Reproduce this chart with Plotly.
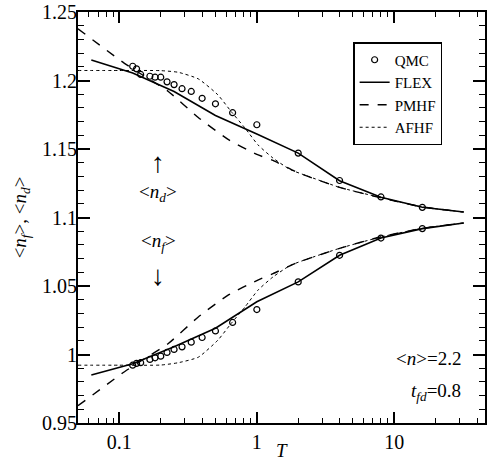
import plotly.graph_objects as go

# ---- data ----
qmc_T = [1/8, 1/7.5, 1/7, 1/6, 1/5.5, 1/5, 1/4.5, 1/4, 1/3.5, 1/3, 1/2.5, 1/2, 1/1.5, 1, 2, 4, 8, 16]
qmc_nd = [1.2104, 1.2085, 1.2044, 1.2031, 1.2024, 1.2024, 1.199, 1.197, 1.194, 1.192, 1.187, 1.183,
          1.1765, 1.1677, 1.147, 1.127, 1.115, 1.1074]
qmc_nf = [0.9922, 0.9935, 0.994, 0.9964, 0.9976, 0.9988, 1.0015, 1.0037, 1.0056, 1.009, 1.0124, 1.0172,
          1.0234, 1.0328, 1.053, 1.0724, 1.085, 1.0919]

flex_T = [0.0625, 0.125, 0.25, 0.5, 1, 2, 4, 8, 16, 32]
flex_nd = [1.215, 1.2055, 1.192, 1.1745, 1.161, 1.147, 1.1268, 1.1148, 1.1075, 1.104]
flex_nf = [0.985, 0.9932, 1.0056, 1.0192, 1.0385, 1.053, 1.0724, 1.085, 1.0919, 1.096]

pmhf_T = [0.05, 0.104, 0.137, 0.227, 0.375, 0.618, 1.0, 1.31, 1.95, 4.0, 7.9, 16, 32]
pmhf_nd = [1.2377, 1.214, 1.206, 1.192, 1.173, 1.157, 1.146, 1.1417, 1.1331, 1.122, 1.1145, 1.1077, 1.104]
pmhf_nf = [0.9626, 0.986, 0.994, 1.008, 1.0274, 1.0433, 1.054, 1.059, 1.0669, 1.0775, 1.0858, 1.0921, 1.096]

afhf_T = [0.05, 0.1, 0.2, 0.268, 0.375, 0.52, 0.65, 0.82, 1.02, 1.31, 1.75, 2.3, 4, 8, 16, 32]
afhf_nd = [1.2073, 1.2073, 1.2072, 1.206, 1.2012, 1.1896, 1.1774, 1.1653, 1.153, 1.1434, 1.135, 1.1305,
           1.122, 1.1145, 1.1077, 1.104]
afhf_nf = [0.9922, 0.9922, 0.9923, 0.994, 0.998, 1.0104, 1.0226, 1.0347, 1.047, 1.0566, 1.065, 1.0695,
           1.0775, 1.0858, 1.0921, 1.096]

x_tickvals = [0.1, 1, 10]
x_ticktext = ["0.1", "1", "10"]
x_minor = [0.06, 0.07, 0.08, 0.09, 0.2, 0.3, 0.4, 0.5, 0.6, 0.7, 0.8, 0.9,
           2, 3, 4, 5, 6, 7, 8, 9, 20, 30, 40]

FONT = "Liberation Serif"

fig = go.Figure()

for ys, show in ((qmc_nd, True), (qmc_nf, False)):
    fig.add_trace(go.Scatter(x=qmc_T, y=ys, mode="markers", name="QMC", legendgroup="qmc",
                             showlegend=show,
                             marker=dict(symbol="circle-open", size=6, color="black",
                                         line=dict(width=1.2, color="black"))))
for ys, show in ((flex_nd, True), (flex_nf, False)):
    fig.add_trace(go.Scatter(x=flex_T, y=ys, mode="lines", name="FLEX", legendgroup="flex",
                             showlegend=show, line=dict(color="black", width=1.6)))
for ys, show in ((pmhf_nd, True), (pmhf_nf, False)):
    fig.add_trace(go.Scatter(x=pmhf_T, y=ys, mode="lines", name="PMHF", legendgroup="pmhf",
                             showlegend=show,
                             line=dict(color="black", width=1.4, dash="dash", shape="spline",
                                       smoothing=0.5)))
for ys, show in ((afhf_nd, True), (afhf_nf, False)):
    fig.add_trace(go.Scatter(x=afhf_T, y=ys, mode="lines", name="AFHF", legendgroup="afhf",
                             showlegend=show,
                             line=dict(color="black", width=1, dash="dot", shape="spline",
                                       smoothing=0.5)))

ann_font = dict(family=FONT, size=19, color="black")
arrow_font = dict(family=FONT, size=28, color="black")
annotations = [
    dict(x=0.197, y=0.635, text="↑", font=arrow_font),
    dict(x=0.197, y=0.56, text="&lt;<i>n</i><sub><i>d</i></sub>&gt;", font=ann_font),
    dict(x=0.197, y=0.44, text="&lt;<i>n</i><sub><i>f</i></sub>&gt;", font=ann_font),
    dict(x=0.197, y=0.36, text="↓", font=arrow_font),
]
for a in annotations:
    a.update(xref="paper", yref="paper", showarrow=False,
             xanchor="center", yanchor="middle")
annotations.append(dict(x=0.945, y=0.158, xref="paper", yref="paper", showarrow=False,
                        text="&lt;<i>n</i>&gt;=2.2", font=ann_font, xanchor="right", yanchor="middle"))
annotations.append(dict(x=0.945, y=0.075, xref="paper", yref="paper", showarrow=False,
                        text="<i>t</i><sub><i>fd</i></sub>=0.8", font=ann_font,
                        xanchor="right", yanchor="middle"))
# x-axis title placed close under the tick labels
annotations.append(dict(x=0.5, y=-0.066, xref="paper", yref="paper", showarrow=False,
                        text="<i>T</i>", font=ann_font, xanchor="center", yanchor="middle"))

fig.update_layout(
    width=487, height=468,
    margin=dict(l=78, r=2, t=12, b=45, autoexpand=False),
    paper_bgcolor="white", plot_bgcolor="white",
    font=dict(family=FONT, size=19, color="black"),
    showlegend=True,
    legend=dict(x=0.676, y=0.927, xanchor="left", yanchor="top",
                bgcolor="white", bordercolor="black", borderwidth=1.5,
                font=dict(family=FONT, size=15, color="black"),
                itemwidth=30, tracegroupgap=0),
    annotations=annotations,
    xaxis=dict(type="log", range=[-1.301, 1.66], automargin=False,
               tickmode="array", tickvals=x_tickvals, ticktext=x_ticktext,
               ticks="inside", ticklen=11, tickwidth=1.5, tickcolor="black",
               tickfont=dict(family=FONT, size=20), ticklabeloverflow="allow",
               minor=dict(tickmode="array", tickvals=x_minor, ticks="inside", ticklen=5,
                          tickwidth=1.2, tickcolor="black", showgrid=False),
               showline=True, linecolor="black", linewidth=2, mirror="allticks",
               showgrid=False, zeroline=False),
    yaxis=dict(range=[0.95, 1.25], tickmode="linear", tick0=0.95, dtick=0.05, automargin=False,
               ticks="inside", ticklen=12, tickwidth=1.5, tickcolor="black",
               tickfont=dict(family=FONT, size=20), ticklabeloverflow="allow",
               minor=dict(dtick=0.01, ticks="inside", ticklen=6, tickwidth=1.2,
                          tickcolor="black", showgrid=False),
               showline=True, linecolor="black", linewidth=2, mirror="allticks",
               showgrid=False, zeroline=False,
               title=dict(text="&lt;<i>n</i><sub><i>f</i></sub>&gt;, &lt;<i>n</i><sub><i>d</i></sub>&gt;",
                          standoff=10, font=dict(family=FONT, size=19))),
)

# bring the y tick labels a little closer to the axis, as in the reference
try:
    fig.update_yaxes(ticklabelstandoff=-5)
except Exception:
    pass

# remove the default 8px page margin so the figure sits at the window's top-left corner
fig.write_html("out.html", config={"displayModeBar": False},
               post_script="document.body.style.margin='0';")
